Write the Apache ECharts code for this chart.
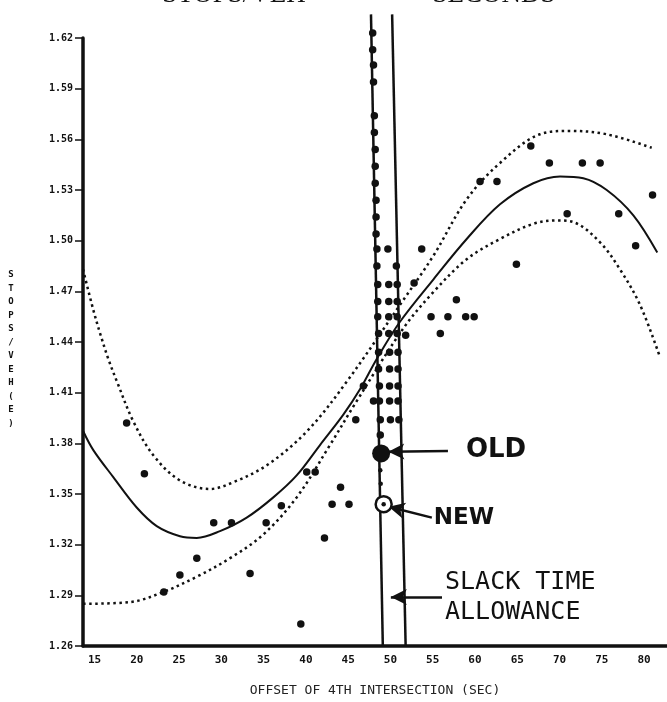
<!DOCTYPE html>
<html>
<head>
<meta charset="utf-8">
<script src="https://cdn.jsdelivr.net/npm/echarts@6/dist/echarts.min.js"></script>
<style>
  html, body { margin: 0; padding: 0; background: #fff; }
  #chart { width: 667px; height: 702px; }
</style>
</head>
<body>
<div id="chart"></div>
<script>
  // tick labels of the offset axis
  const xTicks = [15, 20, 25, 30, 35, 40, 45, 50, 55, 60, 65, 70, 75, 80]

  // observed runs, [offset, stops/veh]
  const scatterPoints = [
    [18.8, 1.392], [20.9, 1.362], [23.2, 1.292], [25.1, 1.302], [27.1, 1.312],
    [29.1, 1.333], [31.2, 1.333], [33.4, 1.303], [35.3, 1.333], [37.1, 1.343],
    [39.4, 1.273], [40.1, 1.363], [41.1, 1.363], [42.2, 1.324], [43.1, 1.344],
    [44.1, 1.354], [45.1, 1.344], [45.9, 1.394], [46.8, 1.414], [48.0, 1.405],
    [51.8, 1.444], [52.8, 1.475], [53.7, 1.495], [54.8, 1.455], [55.9, 1.445],
    [56.8, 1.455], [57.8, 1.465], [58.9, 1.455], [59.9, 1.455], [60.6, 1.535],
    [62.6, 1.535], [64.9, 1.486], [66.6, 1.556], [68.8, 1.546], [70.9, 1.516],
    [72.7, 1.546], [74.8, 1.546], [77.0, 1.516], [79.0, 1.497], [81.0, 1.527]
  ]

  // the stacked runs inside the slack band
  const columnLeft = [
    [47.9, 1.623], [47.9, 1.613], [48.0, 1.604], [48.0, 1.594], [48.1, 1.574],
    [48.1, 1.564], [48.2, 1.554], [48.2, 1.544], [48.2, 1.534], [48.3, 1.524],
    [48.3, 1.514], [48.3, 1.504], [48.4, 1.495], [48.4, 1.485], [48.5, 1.474],
    [48.5, 1.464], [48.5, 1.455], [48.6, 1.445], [48.6, 1.434], [48.6, 1.424],
    [48.7, 1.414], [48.7, 1.405], [48.8, 1.394], [48.8, 1.385]
  ]
  const columnMiddle = [
    [49.7, 1.495], [49.8, 1.474], [49.8, 1.464], [49.8, 1.455], [49.8, 1.445],
    [49.9, 1.434], [49.9, 1.424], [49.9, 1.414], [49.9, 1.405], [50.0, 1.394]
  ]
  const columnRight = [
    [50.7, 1.485], [50.8, 1.474], [50.8, 1.464], [50.8, 1.455], [50.8, 1.445],
    [50.9, 1.434], [50.9, 1.424], [50.9, 1.414], [50.9, 1.405], [51.0, 1.394]
  ]
  const smallPoints = [[48.8, 1.364], [48.85, 1.356]]
  const oldPoint = [[48.9, 1.374]]
  const newPoint = [[49.2, 1.344]]

  // fitted curve and its confidence band
  const fitCurve = [
    [13.68, 1.387], [14.86, 1.376], [17.22, 1.360], [19.99, 1.342], [22.36, 1.331],
    [25.11, 1.325], [27.09, 1.324], [29.84, 1.328], [33.0, 1.336], [36.15, 1.348],
    [38.91, 1.361], [41.67, 1.379], [44.43, 1.397], [46.4, 1.412], [48.38, 1.430],
    [51.13, 1.452], [55.07, 1.477], [59.02, 1.501], [62.96, 1.5215], [66.9, 1.534],
    [70.06, 1.538], [72.81, 1.537], [75.58, 1.530], [78.73, 1.515], [81.56, 1.493]
  ]
  const upperBand = [
    [13.64, 1.483], [14.86, 1.459], [15.73, 1.444], [16.63, 1.430], [17.70, 1.416],
    [19.59, 1.393], [21.95, 1.373], [25.11, 1.358], [28.66, 1.353], [31.42, 1.357],
    [35.37, 1.367], [40.10, 1.387], [44.83, 1.4165], [51.13, 1.462], [55.07, 1.491],
    [59.02, 1.5245], [62.96, 1.546], [67.69, 1.563], [71.24, 1.565], [75.58, 1.563],
    [80.9, 1.555]
  ]
  const lowerBand = [
    [13.68, 1.285], [19.2, 1.286], [23.14, 1.292], [27.09, 1.301], [31.03, 1.312],
    [34.96, 1.326], [38.91, 1.348], [42.85, 1.379], [46.01, 1.405], [51.52, 1.448],
    [55.07, 1.4695], [59.02, 1.489], [62.96, 1.501], [66.9, 1.510], [69.67, 1.512],
    [71.63, 1.511], [74.79, 1.499], [77.15, 1.483], [79.52, 1.462], [81.88, 1.431]
  ]

  // the two slack-time lines (slightly skewed in the scan)
  const slackLeft = [[47.7, 1.634], [49.1, 1.26]]
  const slackRight = [[50.2, 1.634], [51.8, 1.26]]

  // annotation arrows: [tail, tip]
  const oldArrow = [[56.8, 1.3755], [49.75, 1.375]]
  const newArrow = [[54.9, 1.336], [49.8, 1.3425]]
  const slackArrow = [[56.1, 1.289], [50.05, 1.289]]

  const ink = '#111'
  const mono = '"DejaVu Sans Mono", monospace'

  const dotSeries = (data, size) => ({
    type: 'scatter',
    data: data,
    symbolSize: size,
    clip: false,
    itemStyle: { color: ink, opacity: 1 },
    z: 4
  })

  const arrowItem = (arrow, label) => [
    { coord: arrow[0], symbol: 'none', label: label },
    { coord: arrow[1], symbol: 'arrow', symbolSize: [12, 16] }
  ]

  const chart = echarts.init(document.getElementById('chart'))

  const option = {
    animation: false,
    backgroundColor: '#fff',
    grid: { left: 83, right: 0, top: 38, bottom: 53 },
    xAxis: {
      type: 'value',
      min: 13.64,
      max: 82.71,
      name: 'OFFSET OF 4TH INTERSECTION (SEC)',
      nameLocation: 'middle',
      nameGap: 38,
      nameTextStyle: { fontFamily: mono, fontSize: 13, color: '#222' },
      axisLine: { lineStyle: { color: ink, width: 3.5 } },
      axisTick: { show: false },
      splitLine: { show: false },
      axisLabel: {
        customValues: xTicks,
        formatter: v => String(v),
        fontFamily: mono,
        fontWeight: 'bold',
        fontSize: 11,
        color: ink,
        margin: 9
      }
    },
    yAxis: {
      type: 'value',
      min: 1.26,
      max: 1.62,
      interval: 0.03,
      axisLine: { show: true, lineStyle: { color: ink, width: 3.5 } },
      axisTick: { show: true, length: 8, lineStyle: { color: ink, width: 1.5 } },
      splitLine: { show: false },
      axisLabel: {
        formatter: v => v.toFixed(2),
        fontFamily: mono,
        fontWeight: 'bold',
        fontSize: 10,
        color: ink,
        margin: 10
      }
    },
    graphic: [
      {
        type: 'text', x: 234, y: -5,
        style: { text: 'STOPS/VEH', font: '27px "Liberation Serif"', fill: ink, align: 'center', verticalAlign: 'middle' }
      },
      {
        type: 'text', x: 494, y: -5,
        style: { text: 'SECONDS', font: '27px "Liberation Serif"', fill: ink, align: 'center', verticalAlign: 'middle' }
      },
      {
        type: 'text', x: 11, y: 268,
        style: {
          text: 'S\nT\nO\nP\nS\n/\nV\nE\nH\n(\nE\n)',
          font: 'bold 9px "DejaVu Sans Mono"',
          lineHeight: 13.5,
          fill: ink,
          align: 'center',
          verticalAlign: 'top'
        }
      }
    ],
    series: [
      {
        type: 'line', data: upperBand, smooth: 0.35, symbol: 'none', clip: false,
        lineStyle: { color: ink, width: 2.5, type: [2.5, 3.5] }
      },
      {
        type: 'line', data: lowerBand, smooth: 0.35, symbol: 'none', clip: false,
        lineStyle: { color: ink, width: 2.5, type: [2.5, 3.5] }
      },
      {
        type: 'line', data: fitCurve, smooth: 0.35, symbol: 'none', clip: false,
        lineStyle: { color: ink, width: 2 }
      },
      {
        type: 'line', data: slackLeft, symbol: 'none', clip: false,
        lineStyle: { color: ink, width: 2.5 }
      },
      {
        type: 'line', data: slackRight, symbol: 'none', clip: false,
        lineStyle: { color: ink, width: 2.5 }
      },
      dotSeries(scatterPoints, 7.5),
      dotSeries(columnLeft, 7.5),
      dotSeries(columnMiddle, 7.5),
      dotSeries(columnRight, 7.5),
      dotSeries(smallPoints, 4.5),
      {
        type: 'scatter',
        data: oldPoint,
        symbolSize: 18,
        itemStyle: { color: ink, opacity: 1 },
        z: 5,
        markLine: {
          silent: true,
          animation: false,
          lineStyle: { color: ink, width: 2.5, type: 'solid' },
          emphasis: { disabled: true },
          data: [
            arrowItem(oldArrow, {
              show: true, position: 'start', distance: 18, formatter: 'OLD',
              color: ink, fontFamily: '"DejaVu Sans"', fontWeight: 'bold', fontSize: 26
            }),
            arrowItem(newArrow, {
              show: true, position: 'start', distance: 2, formatter: 'NEW',
              color: ink, fontFamily: '"DejaVu Sans"', fontWeight: 'bold', fontSize: 23
            }),
            arrowItem(slackArrow, {
              show: true, position: 'start', distance: 3, formatter: 'SLACK TIME\nALLOWANCE',
              color: ink, fontFamily: mono, fontSize: 25, lineHeight: 30
            })
          ]
        }
      },
      {
        type: 'scatter',
        data: newPoint,
        symbolSize: 16,
        itemStyle: { color: '#fff', borderColor: ink, borderWidth: 2.5, opacity: 1 },
        z: 5
      },
      {
        type: 'scatter',
        data: newPoint,
        symbolSize: 4.5,
        itemStyle: { color: ink, opacity: 1 },
        z: 6
      }
    ]
  }

  chart.setOption(option)
</script>
</body>
</html>
